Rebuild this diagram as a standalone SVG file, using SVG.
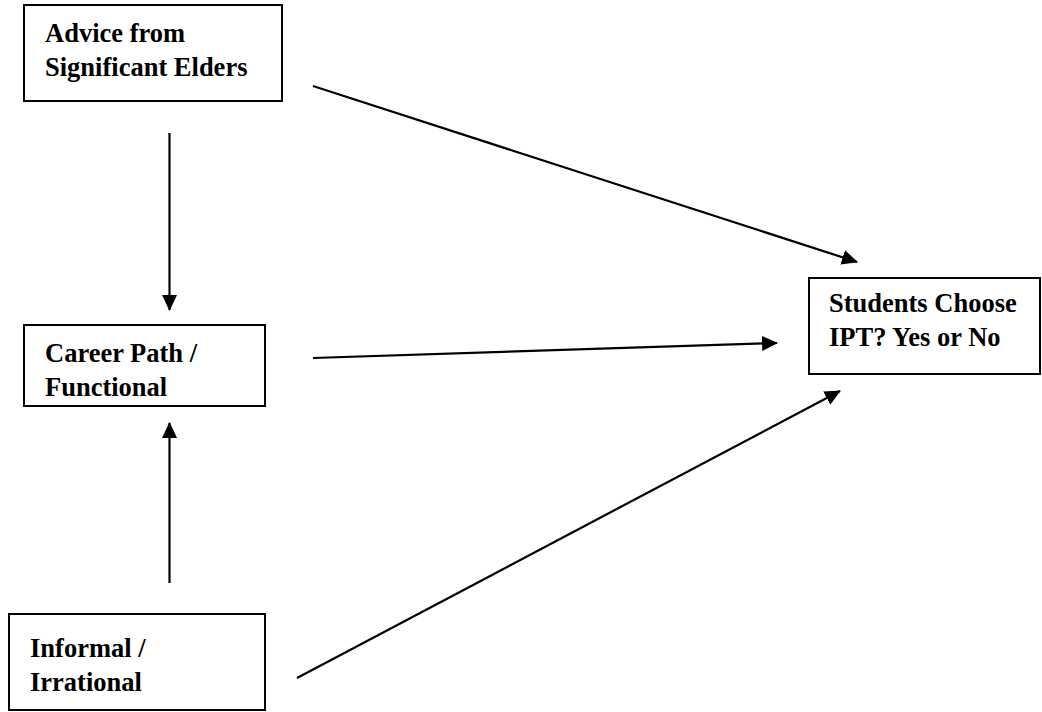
<svg xmlns="http://www.w3.org/2000/svg" width="1042" height="712" viewBox="0 0 1042 712">
<style>
.box{fill:#fff;stroke:#000;stroke-width:2}
.lbl{font-family:"Liberation Serif","Times New Roman",serif;font-weight:bold;font-size:26.5px;fill:#000}
.conn{stroke:#000;stroke-width:2.2;fill:none;marker-end:url(#ah)}
</style>
<defs>
<marker id="ah" markerUnits="userSpaceOnUse" markerWidth="17" markerHeight="16" refX="15" refY="7.5" orient="auto">
<path d="M0,0 L16,7.5 L0,15 z" fill="#000"/>
</marker>
</defs>
<rect width="1042" height="712" fill="#fff"/>
<g id="node-advice">
<rect class="box" x="24" y="5" width="258" height="96"/>
<text class="lbl" x="45" y="42">Advice from</text>
<text class="lbl" x="45" y="76">Significant Elders</text>
</g>
<g id="node-career">
<rect class="box" x="24" y="325" width="241" height="81"/>
<text class="lbl" x="45" y="362">Career Path /</text>
<text class="lbl" x="45" y="396">Functional</text>
</g>
<g id="node-informal">
<rect class="box" x="9" y="614" width="256" height="96"/>
<text class="lbl" x="30" y="657">Informal /</text>
<text class="lbl" x="30" y="691">Irrational</text>
</g>
<g id="node-students">
<rect class="box" x="809" y="278" width="231" height="96"/>
<text class="lbl" x="829" y="312">Students Choose</text>
<text class="lbl" x="829" y="346">IPT? Yes or No</text>
</g>
<g id="connectors">
<line class="conn" x1="313" y1="86" x2="857" y2="262"/>
<line class="conn" x1="313" y1="358" x2="777" y2="343"/>
<line class="conn" x1="297" y1="678" x2="840" y2="391"/>
<line class="conn" x1="169.5" y1="133" x2="169.5" y2="310"/>
<line class="conn" x1="169.5" y1="583" x2="169.5" y2="423"/>
</g>
</svg>
